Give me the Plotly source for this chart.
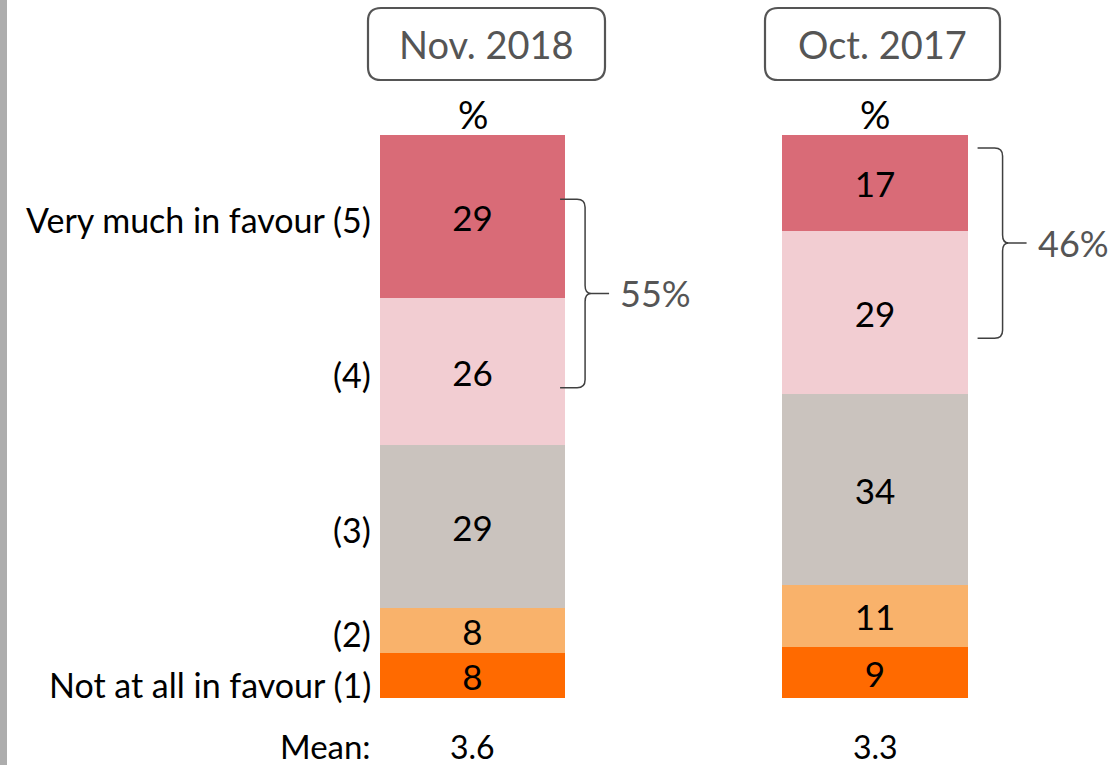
import plotly.graph_objects as go
import numpy as np

# ---- data ----
periods = ["Nov. 2018", "Oct. 2017"]
categories = ["Not at all in favour (1)", "(2)", "(3)", "(4)", "Very much in favour (5)"]
values_2018 = [8, 8, 29, 26, 29]
values_2017 = [9, 11, 34, 29, 17]
means = ["3.6", "3.3"]
top2_labels = ["55%", "46%"]
colors = ["#FF6A00", "#F9B26B", "#CAC3BE", "#F2CDD2", "#D96B77"]

FONT = "Lato"
W, H = 1111, 765
MT, MB = 135, 67
PLOT_H = H - MT - MB
X_UNIT = 402.5      # pixels per category step
X0_PX = 472.5       # pixel centre of first bar
x_lo = -X0_PX / X_UNIT
x_hi = (W - X0_PX) / X_UNIT

def px_x(px):  # pixel -> data x
    return (px - X0_PX) / X_UNIT

def dx(px):    # pixel length -> data x length
    return px / X_UNIT

def dy(px):    # pixel length -> data y length
    return px * 100.0 / PLOT_H

def paper_x(px):
    return px / W

def paper_y(py):
    return (H - MB - py) / PLOT_H

fig = go.Figure()
series = [values_2018, values_2017]
for i, cat in enumerate(categories):
    vals = [s[i] for s in series]
    fig.add_trace(go.Bar(
        x=[0, 1], y=vals, name=cat,
        marker=dict(color=colors[i], line=dict(width=0)),
        width=0.46,
        text=[str(v) for v in vals],
        textposition="inside", insidetextanchor="middle",
        textangle=0, constraintext="none",
        textfont=dict(family=FONT, size=35, color="#000000"),
        hoverinfo="skip",
    ))

annotations = []
shapes = []

# category labels on the left (aligned with first bar segments)
cum = np.cumsum([0] + values_2018)
for i, cat in enumerate(categories):
    yc = (cum[i] + cum[i + 1]) / 2
    annotations.append(dict(
        x=px_x(373), y=yc, xref="x", yref="y", text=cat, showarrow=False,
        xanchor="right", yanchor="middle",
        yshift=(-9 if i == 0 else -3),
        font=dict(family=FONT, size=34, color="#000000")))

# "%" above bars and mean row
for j, p in enumerate(periods):
    annotations.append(dict(
        x=j, y=100, xref="x", yref="y", text="%", showarrow=False,
        xanchor="center", yanchor="bottom", yshift=-4,
        font=dict(family=FONT, size=38, color="#000000")))
    annotations.append(dict(
        x=j, y=paper_y(746), xref="x", yref="paper", text=means[j], showarrow=False,
        xanchor="center", yanchor="middle",
        font=dict(family=FONT, size=32, color="#000000")))
annotations.append(dict(
    x=px_x(373), y=paper_y(746), xref="x", yref="paper", text="Mean:", showarrow=False,
    xanchor="right", yanchor="middle",
    font=dict(family=FONT, size=33, color="#000000")))

# period header boxes (rounded rectangles)
box_px = [(368, 605), (765, 1000)]
for j, p in enumerate(periods):
    bx0, bx1 = box_px[j]
    by0, by1 = 8, 80
    r = 13
    x0, x1 = paper_x(bx0), paper_x(bx1)
    y0, y1 = paper_y(by1), paper_y(by0)
    rx, ry = r / W, r / PLOT_H
    path = (f"M {x0+rx},{y1} L {x1-rx},{y1} Q {x1},{y1} {x1},{y1-ry} "
            f"L {x1},{y0+ry} Q {x1},{y0} {x1-rx},{y0} L {x0+rx},{y0} "
            f"Q {x0},{y0} {x0},{y0+ry} L {x0},{y1-ry} Q {x0},{y1} {x0+rx},{y1} Z")
    shapes.append(dict(type="path", path=path, xref="paper", yref="paper",
                       line=dict(color="#555555", width=2.2), fillcolor="rgba(0,0,0,0)"))
    annotations.append(dict(
        x=paper_x((bx0 + bx1) / 2), y=paper_y((by0 + by1) / 2), xref="paper", yref="paper",
        text=p, showarrow=False, xanchor="center", yanchor="middle",
        font=dict(family=FONT, size=38, color="#555555")))

# curly brackets for top-2 totals
brackets = [
    dict(bar=0, top=88.6, bottom=55.1),
    dict(bar=1, top=97.7, bottom=63.9),
]
for j, b in enumerate(brackets):
    xs = b["bar"] + 0.23 + dx(-5 if j == 0 else 10)
    xh = xs + dx(17)
    xv = xs + dx(25)
    xt = xv + dx(6)
    xe = xv + dx(24)
    yt, yb = b["top"], b["bottom"]
    ym = (yt + yb) / 2
    c = dy(8)
    path = (f"M {xs},{yt} L {xh},{yt} Q {xv},{yt} {xv},{yt-c} "
            f"L {xv},{ym+c} Q {xv},{ym} {xt},{ym} L {xe},{ym} M {xt},{ym} "
            f"Q {xv},{ym} {xv},{ym-c} L {xv},{yb+c} Q {xv},{yb} {xh},{yb} L {xs},{yb}")
    shapes.append(dict(type="path", path=path, xref="x", yref="y",
                       line=dict(color="#404040", width=1.5)))
    annotations.append(dict(
        x=xe + dx(9), y=ym, xref="x", yref="y", text=top2_labels[j], showarrow=False,
        xanchor="left", yanchor="middle",
        font=dict(family=FONT, size=36, color="#555555")))

# grey strip at the left edge
shapes.append(dict(type="rect", xref="paper", yref="paper",
                   x0=0, x1=paper_x(7), y0=paper_y(H), y1=paper_y(0),
                   line=dict(width=0), fillcolor="#ADADAD"))

fig.update_layout(
    width=W, height=H,
    margin=dict(l=0, r=0, t=MT, b=MB, pad=0),
    barmode="stack", bargap=0,
    showlegend=False,
    paper_bgcolor="white", plot_bgcolor="white",
    xaxis=dict(range=[x_lo, x_hi], visible=False, fixedrange=True),
    yaxis=dict(range=[0, 100], visible=False, fixedrange=True),
    annotations=annotations, shapes=shapes,
    font=dict(family=FONT),
)

fig.write_html("out.html", config={"displayModeBar": False},
               post_script="document.body.style.margin='0';")
